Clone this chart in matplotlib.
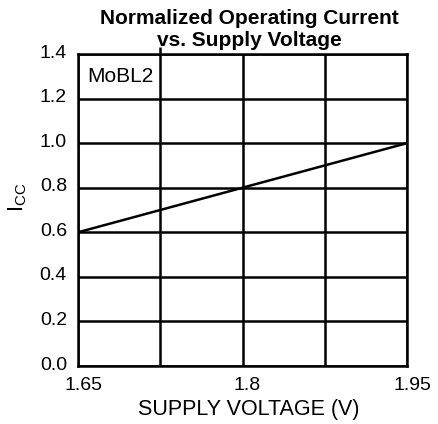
import matplotlib
matplotlib.use("Agg")
import matplotlib.pyplot as plt
import matplotlib.transforms as mtransforms

plt.rcParams['font.family'] = ['Liberation Sans', 'DejaVu Sans']

# data
voltage = [1.65, 1.80, 1.95]
icc = [0.60, 0.80, 1.00]
x_grid = [1.65, 1.725, 1.80, 1.875, 1.95]
x_ticks = [1.65, 1.80, 1.95]
x_ticklabels = ["1.65", "1.8", "1.95"]
y_ticks = [0.0, 0.2, 0.4, 0.6, 0.8, 1.0, 1.2, 1.4]

fig = plt.figure(figsize=(4.38, 4.24), dpi=100)
ax = fig.add_axes([78 / 438, 1 - 366 / 424, (407 - 78) / 438, (366 - 54) / 424])

lw = 1.8
for xv in x_grid:
    ax.axvline(xv, color="black", lw=lw)
for yv in y_ticks:
    ax.axhline(yv, color="black", lw=lw)
ax.plot(voltage, icc, color="black", lw=lw)

ax.set_xlim(1.65, 1.95)
ax.set_ylim(0, 1.4)
ax.set_xticks(x_ticks)
ax.set_xticklabels(x_ticklabels)
ax.set_yticks(y_ticks)
ax.set_yticklabels(["%.1f" % v for v in y_ticks])
ax.tick_params(length=0, labelsize=14)
ax.tick_params(axis="y", pad=8)
ax.tick_params(axis="x", pad=8)
# small stub above the plot at the second grid column
ax.set_xticks([1.725], minor=True)
ax.tick_params(which="minor", bottom=False, top=True, length=5, width=lw,
               labeltop=False, labelbottom=False)
for s in ax.spines.values():
    s.set_linewidth(lw)

# nudge labels like the original
for lab in ax.get_xticklabels():
    lab.set_transform(lab.get_transform() + mtransforms.ScaledTranslation(5 / 100, 0, fig.dpi_scale_trans))
for lab in ax.get_yticklabels():
    lab.set_transform(lab.get_transform() + mtransforms.ScaledTranslation(0, 3 / 100, fig.dpi_scale_trans))

ax.text(1.6585, 1.3, "MoBL2", fontsize=15, va="center", ha="left")
ax.set_xlabel("SUPPLY VOLTAGE (V)", fontsize=15.5)
ax.xaxis.set_label_coords(248.5 / 438, 1 - 410 / 424, transform=fig.transFigure)
ax.xaxis.label.set_va("center")
ax.set_ylabel(r"I$_\mathregular{CC}$", fontsize=15.5)
ax.yaxis.set_label_coords(18 / 438, 1 - 197 / 424, transform=fig.transFigure)
ax.yaxis.label.set_va("center")
fig.text(249 / 438, 1 - 9 / 424, "Normalized Operating Current\nvs. Supply Voltage",
         ha="center", va="top", fontsize=15, fontweight="bold", linespacing=1.2)

fig.savefig("out.png", dpi=100)
